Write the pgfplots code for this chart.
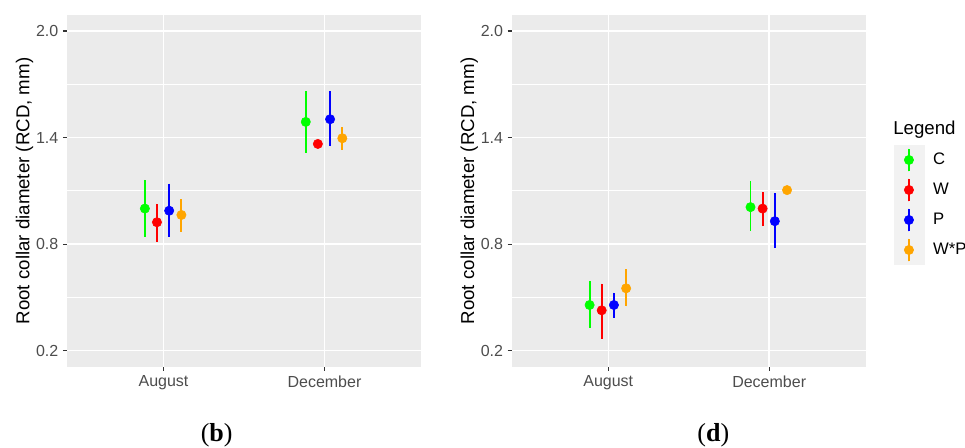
\documentclass[border=0pt]{standalone}
\usepackage{fontspec}
\setmainfont{Liberation Sans}
\newfontfamily\capfont{Liberation Serif}
\usepackage{pgfplots}
\pgfplotsset{compat=1.18}

\definecolor{panelbg}{HTML}{EBEBEB}
\definecolor{keybg}{HTML}{F2F2F2}
\definecolor{ticktxt}{HTML}{4D4D4D}
\definecolor{tickln}{HTML}{333333}
\definecolor{cC}{HTML}{00FF00}
\definecolor{cW}{HTML}{FF0000}
\definecolor{cP}{HTML}{0000FF}
\definecolor{cWP}{HTML}{FFA500}

\pgfplotsset{
  ggpanel/.style={
    scale only axis, width=265.5pt, height=264pt,
    xmin=0.4, xmax=2.6, ymin=0.108, ymax=2.09,
    axis background/.style={fill=panelbg},
    axis line style={draw=none},
    xtick={1,2}, xticklabels={August,December},
    ytick={0.2,0.8,1.4,2.0}, minor ytick={0.5,1.1,1.7},
    grid=both,
    major grid style={white, line width=1.1pt},
    minor grid style={white, line width=0.6pt},
    tick align=outside, tick pos=left,
    major tick length=3pt, minor tick length=0pt,
    tick style={tickln, line width=0.8pt},
    tick label style={font=\fontsize{12}{14}\selectfont, text=ticktxt},
    /pgf/number format/assume math mode=true,
    yticklabel style={/pgf/number format/.cd, fixed, fixed zerofill, precision=1},
    ylabel={Root collar diameter (RCD, mm)},
    ylabel style={font=\fontsize{14}{16}\selectfont, at={(rel axis cs:-0.12,0.5)}, anchor=center},
  },
  ser/.style={only marks, mark=*, mark size=3.5pt, draw=#1, fill=#1,
    mark options={solid, draw=#1, fill=#1},
    error bars/.cd, y dir=both, y explicit, error mark=none,
    error bar style={line width=1.4pt, draw=#1, solid}},
}

\begin{document}
\begin{tikzpicture}
\useasboundingbox (0,0) rectangle (723.75pt,336pt);

% panel (b)
\begin{axis}[ggpanel, at={(50.25pt,60.75pt)}, anchor=south west]
\addplot[ser=cC] coordinates {(0.884,1.000) += (0,0.161) -= (0,0.159) (1.884,1.488) += (0,0.174) -= (0,0.173)};
\addplot[ser=cW] coordinates {(0.959,0.923) += (0,0.103) -= (0,0.109) (1.959,1.364) += (0,0) -= (0,0)};
\addplot[ser=cP] coordinates {(1.035,0.988) += (0,0.152) -= (0,0.146) (2.035,1.503) += (0,0.159) -= (0,0.151)};
\addplot[ser=cWP] coordinates {(1.111,0.964) += (0,0.088) -= (0,0.094) (2.111,1.396) += (0,0.062) -= (0,0.066)};
\end{axis}

% panel (d)
\begin{axis}[ggpanel, at={(383.8pt,60.75pt)}, anchor=south west,
  legend image code/.code={
    \fill[keybg] (0pt,-11.05pt) rectangle (22.3pt,11.05pt);
    \draw[line width=1.4pt] (11.15pt,-8.5pt) -- (11.15pt,8.5pt);
    \fill (11.15pt,0pt) circle (3.5pt);
  },
  legend cell align=left,
  legend style={at={(rel axis cs:1.0793,0.6307)}, anchor=north west,
    draw=none, fill=none, inner sep=0pt, outer sep=0pt, row sep=0pt,
    column sep=6.75pt, nodes={inner sep=0pt},
    font=\fontsize{12.5}{14}\selectfont}]
\addplot[ser=cC] coordinates {(0.884,0.457) += (0,0.136) -= (0,0.129) (1.884,1.008) += (0,0.146) -= (0,0.135)};
\addplot[ser=cW] coordinates {(0.959,0.427) += (0,0.151) -= (0,0.159) (1.959,1.000) += (0,0.094) -= (0,0.099)};
\addplot[ser=cP] coordinates {(1.035,0.457) += (0,0.070) -= (0,0.071) (2.035,0.929) += (0,0.160) -= (0,0.152)};
\addplot[ser=cWP] coordinates {(1.111,0.551) += (0,0.107) -= (0,0.101) (2.111,1.104) += (0,0) -= (0,0)};
\legend{C,W,P,W*P}
\end{axis}

\node[anchor=west, inner sep=0pt, font=\fontsize{14}{16}\selectfont] at (669.75pt,239pt) {Legend};
\node[anchor=base, inner sep=0pt, font=\capfont\fontsize{19.5}{21}\selectfont] at (162.5pt,4.5pt) {({\bfseries b})};
\node[anchor=base, inner sep=0pt, font=\capfont\fontsize{19.5}{21}\selectfont] at (535pt,4.5pt) {({\bfseries d})};
\end{tikzpicture}
\end{document}
